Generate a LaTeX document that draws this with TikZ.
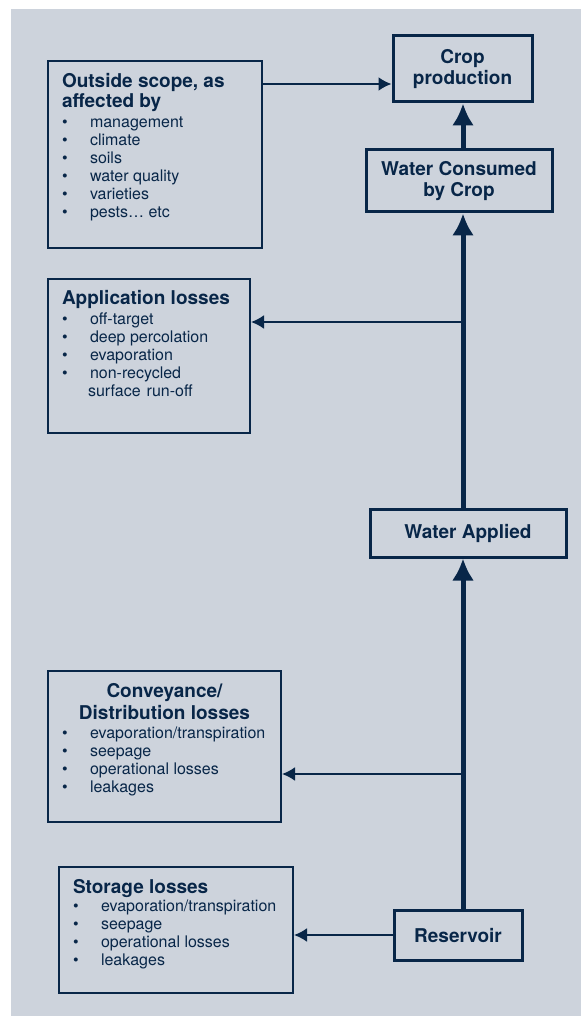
\documentclass[tikz,border=0pt]{standalone}
\usepackage{fontspec}
\setmainfont{TeX Gyre Heros}
\usetikzlibrary{arrows.meta,calc,positioning}
\definecolor{navy}{RGB}{8,38,72}
\definecolor{panel}{RGB}{205,211,220}
\newcommand{\itm}[1]{\mbox{\makebox[28pt][l]{\textbullet}#1}}
\newcommand{\hd}[1]{{\bfseries\fontsize{19}{20}\selectfont #1\par}}

\begin{document}
\begin{tikzpicture}[x=1pt,y=-1pt,>=Latex,
  stage/.style={draw=navy,line width=3pt,text=navy,align=center,
    font=\bfseries\fontsize{19}{21}\selectfont,inner sep=0pt},
  lossbox/.style={draw=navy,line width=2pt,text=navy,anchor=north west,
    inner xsep=14pt,inner ysep=0pt,font=\fontsize{16}{18}\selectfont},
  feed/.style={navy,line width=2pt,-{Latex[length=13pt,width=14pt]}},
  trunk/.style={navy,line width=5pt,-{Latex[length=22pt,width=22pt]}}]
  \useasboundingbox (0,0) rectangle (581,1016);
  \fill[panel] (11,9) rectangle (581,1016);

  % main chain
  \node[stage,minimum width=139pt,minimum height=66pt] (crop) at (462.5,69) {Crop\\production};
  \node[stage,minimum width=186pt,minimum height=62pt] (consumed) at (459,181) {Water Consumed\\by Crop};
  \node[stage,minimum width=196pt,minimum height=48pt] (applied) at (468,533) {Water Applied};
  \node[stage,minimum width=128pt,minimum height=50pt] (res) at (458,935) {Reservoir};

  % loss boxes
  \node[lossbox] (scope) at (47,60) {\parbox[t][187pt][t]{186pt}{\raggedright\vspace*{12pt}%
    \hd{Outside scope, as\\affected by}\vspace{2pt}%
    \itm{management}\\\itm{climate}\\\itm{soils}\\\itm{water quality}\\\itm{varieties}\\\itm{pests… etc}}};
  \node[lossbox] (app) at (47,278) {\parbox[t][154pt][t]{174pt}{\raggedright\vspace*{11pt}%
    \hd{Application losses}\vspace{2pt}%
    \itm{off-target}\\\itm{deep percolation}\\\itm{evaporation}\\\itm{non-recycled}\\%
    \hspace*{26pt}surface\hspace{6pt}run-off}};
  \node[lossbox] (convey) at (47,670) {\parbox[t][151pt][t]{205pt}{\raggedright\vspace*{12pt}%
    {\centering\bfseries\fontsize{19}{22}\selectfont Conveyance/\\Distribution losses\par}\vspace{1pt}%
    \itm{evaporation/transpiration}\\\itm{seepage}\\\itm{operational losses}\\\itm{leakages}}};
  \node[lossbox] (store) at (58,866) {\parbox[t][126pt][t]{206pt}{\raggedright\vspace*{12pt}%
    \hd{Storage losses}%
    \itm{evaporation/transpiration}\\\itm{seepage}\\\itm{operational losses}\\\itm{leakages}}};

  % trunk and branches
  \coordinate (spine) at (463,0);
  \coordinate (yscope) at (0,84);
  \coordinate (yapp) at (0,322);
  \coordinate (yconvey) at (0,774);
  \draw[trunk] (res.north -| spine) -- (applied.south -| spine);
  \draw[trunk] (applied.north -| spine) -- (consumed.south -| spine);
  \draw[trunk] (consumed.north -| spine) -- (crop.south -| spine);
  \draw[feed] (scope.east |- yscope) -- (crop.west |- yscope);
  \draw[feed] (spine |- yapp) -- (app.east |- yapp);
  \draw[feed] (spine |- yconvey) -- (convey.east |- yconvey);
  \draw[feed] (res.west) -- (res.west -| store.east);
\end{tikzpicture}
\end{document}
